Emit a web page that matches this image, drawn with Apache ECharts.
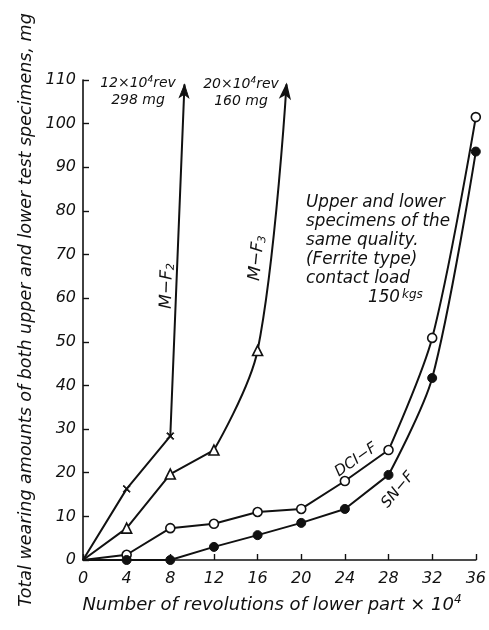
<!DOCTYPE html>
<html>
<head>
<meta charset="utf-8">
<script src="https://cdn.jsdelivr.net/npm/echarts@6/dist/echarts.min.js"></script>
<style>
  html, body { margin: 0; padding: 0; background: #fff; }
  #chart { width: 489px; height: 630px; }
</style>
</head>
<body>
<div id="chart"></div>
<script>
// Revolutions of lower part (x 10^4)
const revs = [0, 4, 8, 12, 16, 20, 24, 28, 32, 36];
const xTicks = [0, 4, 8, 12, 16, 20, 24, 28, 32, 36];
const yTicks = [0, 10, 20, 30, 40, 50, 60, 70, 80, 90, 100, 110];

// Total wear (mg)
const mF2 = [0, 16.3, 28.4];               // at revs 0, 4, 8
const mF2Off = [9.3, 109];                  // runs off the scale (298 mg at 12x10^4 rev)
const mF3 = [0, 7.3, 19.7, 25.2, 48];      // at revs 0..16
const mF3Off = [18.65, 109];                // runs off the scale (160 mg at 20x10^4 rev)
const dciF = [0, 1.2, 7.3, 8.3, 11, 11.7, 18.1, 25.2, 50.9, 101.5];
const snF = [0, 0, 0, 3, 5.7, 8.5, 11.7, 19.5, 41.7, 93.6];

const FONT = '"DejaVu Sans", "Liberation Sans", sans-serif';
const INK = '#111';

function pts(ys, from, to) {
  const out = [];
  for (let i = from; i <= to && i < ys.length; i++) {
    const item = { value: [revs[i], ys[i]] };
    if (revs[i] === 0) item.symbol = 'none';
    out.push(item);
  }
  return out;
}

const crossPath = 'path://M0,1L1,0L5,4L9,0L10,1L6,5L10,9L9,10L5,6L1,10L0,9L4,5Z';
const lineStyle = { color: INK, width: 2 };
const openStyle = { color: '#fff', borderColor: INK, borderWidth: 1.6 };
const fillStyle = { color: INK, borderColor: INK, borderWidth: 1 };

function arrowPoint(p, rot) {
  return { value: p, symbol: 'arrow', symbolSize: [7, 13], symbolRotate: rot,
           itemStyle: { color: INK, borderColor: INK } };
}

// M-F2: straight run then off the top of the scale
const mF2Data = pts(mF2, 0, 2);
mF2Data.push(arrowPoint(mF2Off, -2));

// M-F3: straight to 12, then curving up off the scale
const mF3Straight = pts(mF3, 0, 3);
const mF3Curve = pts(mF3, 3, 4);
mF3Curve[0].symbol = 'none';
mF3Curve.push(arrowPoint(mF3Off, -6));

// DCI-F and SN-F: straight to 28, then a rising curve
const dciStraight = pts(dciF, 0, 7);
const dciCurve = pts(dciF, 7, 9); dciCurve[0].symbol = 'none';
const snStraight = pts(snF, 0, 7);
const snCurve = pts(snF, 7, 9); snCurve[0].symbol = 'none';

function lineSeries(name, data, opts) {
  return Object.assign({
    type: 'line', name, data, lineStyle, showAllSymbol: true,
    clip: false, z: 3, emphasis: { disabled: true }
  }, opts);
}

const chart = echarts.init(document.getElementById('chart'), null, { renderer: 'canvas' });

const tickLabel = { color: INK, fontFamily: FONT, fontStyle: 'italic', fontSize: 16 };

chart.setOption({
  animation: false,
  backgroundColor: '#fff',
  grid: { left: 83, right: 12, top: 80, bottom: 70, containLabel: false },
  xAxis: {
    type: 'value', min: 0, max: 36, interval: 4,
    axisLine: { show: true, onZero: false, lineStyle: { color: INK, width: 1.6 } },
    axisTick: { show: true, inside: true, length: 6, lineStyle: { color: INK, width: 1.4 } },
    axisLabel: Object.assign({ margin: 11, showMaxLabel: true,
      formatter: v => xTicks.includes(v) ? String(v) : '' }, tickLabel),
    splitLine: { show: false }
  },
  yAxis: {
    type: 'value', min: 0, max: 110, interval: 10,
    axisLine: { show: true, lineStyle: { color: INK, width: 1.6 } },
    axisTick: { show: true, inside: true, length: 6, lineStyle: { color: INK, width: 1.4 } },
    axisLabel: Object.assign({ margin: 7, showMaxLabel: true,
      formatter: v => yTicks.includes(v) ? String(v) : '' }, tickLabel),
    splitLine: { show: false }
  },
  series: [
    lineSeries('M-F2', mF2Data, { symbol: crossPath, symbolSize: 7, itemStyle: fillStyle }),
    lineSeries('M-F3', mF3Straight, { symbol: 'triangle', symbolSize: 10, itemStyle: openStyle }),
    lineSeries('M-F3 curve', mF3Curve, { symbol: 'triangle', symbolSize: 10, itemStyle: openStyle, smooth: 0.35 }),
    lineSeries('DCI-F', dciStraight, { symbol: 'circle', symbolSize: 9, itemStyle: openStyle }),
    lineSeries('DCI-F curve', dciCurve, { symbol: 'circle', symbolSize: 9, itemStyle: openStyle, smooth: 0.3 }),
    lineSeries('SN-F', snStraight, { symbol: 'circle', symbolSize: 9, itemStyle: fillStyle }),
    lineSeries('SN-F curve', snCurve, { symbol: 'circle', symbolSize: 9, itemStyle: fillStyle, smooth: 0.3 })
  ],
  graphic: [
    // axis titles
    { type: 'text', x: 26, y: 310, rotation: Math.PI / 2,
      style: { text: 'Total wearing amounts of both upper and lower test specimens, mg',
               fill: INK, fontFamily: FONT, fontStyle: 'italic', fontSize: 17.5,
               align: 'center', verticalAlign: 'middle' } },
    { type: 'text', x: 272, y: 605,
      style: { text: 'Number of revolutions of lower part × 10{sup|4}',
               fill: INK, fontFamily: FONT, fontStyle: 'italic', fontSize: 18,
               align: 'center', verticalAlign: 'middle',
               rich: { sup: { fontSize: 12, fontFamily: FONT, fontStyle: 'italic', padding: [0, 0, 10, 0] } } } },
    // off-scale notes
    { type: 'text', x: 138, y: 92,
      style: { text: '12×10{sup|4}rev\n298 mg', fill: INK, fontFamily: FONT, fontStyle: 'italic',
               fontSize: 14, lineHeight: 17, align: 'center', verticalAlign: 'middle',
               rich: { sup: { fontSize: 9, fontFamily: FONT, fontStyle: 'italic', padding: [0, 0, 8, 0] } } } },
    { type: 'text', x: 241, y: 93,
      style: { text: '20×10{sup|4}rev\n160 mg', fill: INK, fontFamily: FONT, fontStyle: 'italic',
               fontSize: 14, lineHeight: 17, align: 'center', verticalAlign: 'middle',
               rich: { sup: { fontSize: 9, fontFamily: FONT, fontStyle: 'italic', padding: [0, 0, 8, 0] } } } },
    // series labels
    { type: 'text', x: 167, y: 286, rotation: Math.PI / 2 * 0.98,
      style: { text: 'M−F{sub|2}', fill: INK, fontFamily: FONT, fontStyle: 'italic', fontSize: 17,
               align: 'center', verticalAlign: 'middle',
               rich: { sub: { fontSize: 11, fontFamily: FONT, fontStyle: 'italic', padding: [7, 0, 0, 0] } } } },
    { type: 'text', x: 257, y: 258, rotation: 84 * Math.PI / 180,
      style: { text: 'M−F{sub|3}', fill: INK, fontFamily: FONT, fontStyle: 'italic', fontSize: 17,
               align: 'center', verticalAlign: 'middle',
               rich: { sub: { fontSize: 11, fontFamily: FONT, fontStyle: 'italic', padding: [7, 0, 0, 0] } } } },
    { type: 'text', x: 356, y: 460, rotation: 35 * Math.PI / 180,
      style: { text: 'DCI−F', fill: INK, fontFamily: FONT, fontStyle: 'italic', fontSize: 15,
               align: 'center', verticalAlign: 'middle' } },
    { type: 'text', x: 398, y: 490, rotation: 50 * Math.PI / 180,
      style: { text: 'SN−F', fill: INK, fontFamily: FONT, fontStyle: 'italic', fontSize: 15,
               align: 'center', verticalAlign: 'middle' } },
    // test conditions
    { type: 'text', x: 306, y: 193,
      style: { text: 'Upper and lower\nspecimens of the\nsame quality.\n(Ferrite type)\ncontact load',
               fill: INK, fontFamily: FONT, fontStyle: 'italic', fontSize: 16.8, lineHeight: 19,
               align: 'left', verticalAlign: 'top' } },
    { type: 'text', x: 368, y: 298,
      style: { text: '150{sup|kgs}', fill: INK, fontFamily: FONT, fontStyle: 'italic', fontSize: 16.8,
               align: 'left', verticalAlign: 'middle',
               rich: { sup: { fontSize: 12, fontFamily: FONT, fontStyle: 'italic', padding: [0, 0, 7, 2] } } } }
  ]
});
</script>
</body>
</html>
